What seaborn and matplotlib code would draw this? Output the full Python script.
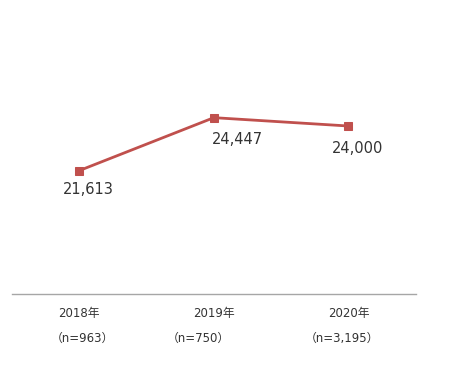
import matplotlib
matplotlib.use("Agg")
import matplotlib.pyplot as plt
import seaborn as sns
import pandas as pd

years = ["2018年", "2019年", "2020年"]
sample_sizes = ["（n=963）", "（n=750）", "（n=3,195）"]
values = [21613, 24447, 24000]

sns.set_style("white")
plt.rcParams['font.family'] = ['DejaVu Sans', 'Noto Sans CJK JP']

df = pd.DataFrame({"x": [0, 1, 2], "value": values})

fig = plt.figure(figsize=(4.5, 3.87), dpi=100)
ax = fig.add_axes([0.0267, 0.240, 0.897, 0.724])

sns.lineplot(data=df, x="x", y="value", ax=ax, color="#C0504D", linewidth=2,
             marker="s", markersize=6, markeredgecolor="#C0504D")

ax.set_xlim(-0.5, 2.5)
ax.set_ylim(15000, 30000)
ax.set_yticks([])
ax.set_xticks([0, 1, 2])
ax.set_xticklabels(years, fontsize=8.5, color="#333333")
ax.tick_params(axis="x", length=0, pad=9)
ax.set_xlabel("")
ax.set_ylabel("")
for s in ["top", "right", "left"]:
    ax.spines[s].set_visible(False)
ax.spines["bottom"].set_color("#A6A6A6")
ax.spines["bottom"].set_linewidth(1)

n_offsets = [2.5, -11, -5]
for i, n in enumerate(sample_sizes):
    ax.annotate(n, xy=(i, 0), xycoords=("data", "axes fraction"),
                xytext=(n_offsets[i], -32), textcoords="offset points",
                ha="center", va="center", fontsize=8.5, color="#333333")

label_offsets = [(6.5, -13.5), (17, -16), (6.5, -16)]
for i, v in enumerate(values):
    ax.annotate(f"{v:,}", (i, v), xytext=label_offsets[i], textcoords="offset points",
                ha="center", va="center", fontsize=10.5, color="#333333")

fig.savefig("out.png", dpi=100)
